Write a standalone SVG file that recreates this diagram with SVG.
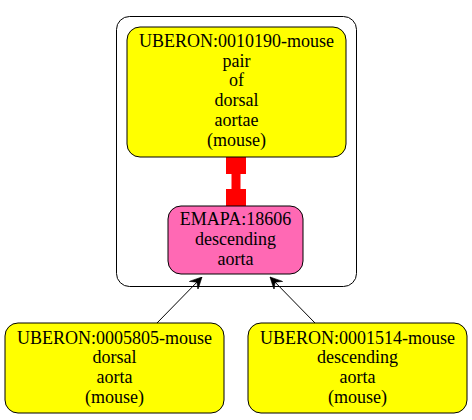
<svg xmlns="http://www.w3.org/2000/svg" width="472" height="420" viewBox="0 0 472 420">
<style>
text{font-family:"Liberation Serif","Times New Roman",serif;font-size:18px;text-anchor:middle;fill:#000}
.box{stroke:#000;stroke-width:1}
.edge{stroke:#000;stroke-width:1;fill:none}
</style>
<defs>
<marker id="vee" markerWidth="12" markerHeight="12" refX="10" refY="5" orient="auto" markerUnits="userSpaceOnUse" viewBox="0 0 10 10">
<path d="M0,0 L10,5 L0,10 L4,5 Z" fill="#000" stroke="#000" stroke-width="0.5"/>
</marker>
</defs>
<rect x="116.5" y="16.5" width="240" height="270" rx="13" fill="#fff" stroke="#000"/>
<g id="connectors">
<path class="edge" d="M157,323 L202,277" marker-end="url(#vee)"/>
<path class="edge" d="M315,323 L270,277" marker-end="url(#vee)"/>
<g id="red-link" fill="#ff0000">
<rect x="226" y="153" width="20" height="21"/>
<rect x="231.5" y="173" width="9" height="17"/>
<rect x="226" y="189" width="20" height="17"/>
</g>
</g>
<g id="n_0010190">
<rect class="box" x="127" y="27" width="219" height="130" rx="13" fill="#ffff00"/>
<text x="236.5" y="47">UBERON:0010190-mouse</text>
<text x="236.5" y="66.5">pair</text>
<text x="236.5" y="86">of</text>
<text x="236.5" y="106">dorsal</text>
<text x="236.5" y="126">aortae</text>
<text x="236.5" y="145.5">(mouse)</text>
</g>
<g id="n_emapa">
<rect class="box" x="168" y="206" width="135" height="68" rx="13" fill="#ff69b4"/>
<text x="235.5" y="225">EMAPA:18606</text>
<text x="235.5" y="245">descending</text>
<text x="235.5" y="265">aorta</text>
</g>
<g id="n_0005805">
<rect class="box" x="5" y="323" width="219" height="90" rx="13" fill="#ffff00"/>
<text x="114.5" y="343.5">UBERON:0005805-mouse</text>
<text x="114.5" y="363">dorsal</text>
<text x="114.5" y="383">aorta</text>
<text x="114.5" y="402.5">(mouse)</text>
</g>
<g id="n_0001514">
<rect class="box" x="248" y="323" width="219" height="90" rx="13" fill="#ffff00"/>
<text x="357.5" y="343.5">UBERON:0001514-mouse</text>
<text x="357.5" y="363">descending</text>
<text x="357.5" y="383">aorta</text>
<text x="357.5" y="402.5">(mouse)</text>
</g>
</svg>
